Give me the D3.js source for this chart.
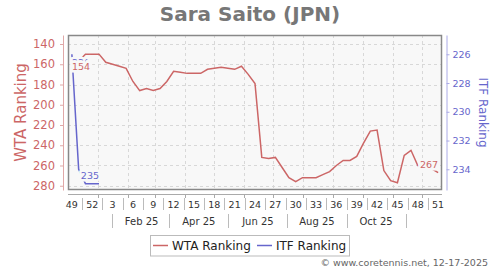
<!DOCTYPE html>
<html>
<head>
<meta charset="utf-8">
<script src="https://cdn.jsdelivr.net/npm/d3@7"></script>
<style>
  body { margin: 0; background: #fff; }
</style>
</head>
<body>
<div id="chart"></div>
<script>
// weekly ranking, ISO weeks 49/2024 .. 51/2025
var weekNums = [49,50,51,52,1,2,3,4,5,6,7,8,9,10,11,12,13,14,15,16,17,18,19,20,21,22,23,24,25,26,27,28,29,30,31,32,33,34,35,36,37,38,39,40,41,42,43,44,45,46,47,48,49,50,51];
var wtaRank = [154,157,150,150,150,158,160,162,164,177,186,184,186,184,177,167,168,169,169,169,165,164,163,164,165,162,170,179,252,253,252,262,272,276,272,272,272,269,266,260,255,255,251,238,226,225,265,275,277,250,245,260,261,263,267];
var itfRank = [226,234,235,235,235];
var wtaTicks = [140,160,180,200,220,240,260,280];
var itfTicks = [226,228,230,232,234];
var monthLabels = ["Feb 25","Apr 25","Jun 25","Aug 25","Oct 25"];

var W = 500, H = 270;
var plot = { left: 68, right: 442, top: 35, bottom: 190 };
var wtaColor = "#cc6666", itfColor = "#6666cc", plotBg = "#f8f8f8";

var svg = d3.select("#chart").append("svg")
    .attr("width", W)
    .attr("height", H)
    .style("font-family", "'DejaVu Sans', sans-serif");

// points sit on the thursday of each week
var firstDay = new Date(2024, 11, 5);
var dates = weekNums.map(function(w, i){ return d3.timeDay.offset(firstDay, 7 * i) });

var x = d3.scaleTime()
    .domain([new Date(2024, 11, 1), new Date(2025, 11, 22)])
    .range([plot.left, plot.right]);
var yWta = d3.scaleLinear().domain([131.1, 284.2]).range([plot.top, plot.bottom]);
var yItf = d3.scaleLinear().domain([224.66, 235.44]).range([plot.top, plot.bottom]);

// title
svg.append("text")
    .attr("x", 250).attr("y", 21)
    .attr("text-anchor", "middle")
    .attr("font-size", 20).attr("font-weight", "bold")
    .attr("fill", "#777")
    .text("Sara Saito (JPN)");

// plot area + grid
svg.append("rect")
    .attr("x", plot.left).attr("y", plot.top)
    .attr("width", plot.right - plot.left).attr("height", plot.bottom - plot.top)
    .attr("fill", plotBg);

var months = d3.timeMonth.range(new Date(2025, 0, 1), new Date(2025, 11, 2));
var grid = svg.append("g").attr("stroke", "#d8d8d8").attr("stroke-dasharray", "3,3");
grid.selectAll(".h").data(wtaTicks).enter().append("line")
    .attr("x1", plot.left).attr("x2", plot.right)
    .attr("y1", function(d){ return Math.round(yWta(d)) + 0.5 })
    .attr("y2", function(d){ return Math.round(yWta(d)) + 0.5 });
grid.selectAll(".v").data(months).enter().append("line")
    .attr("x1", function(d){ return Math.round(x(d)) + 0.5 })
    .attr("x2", function(d){ return Math.round(x(d)) + 0.5 })
    .attr("y1", plot.top).attr("y2", plot.bottom);

// lines
var itfLine = d3.line()
    .x(function(d, i){ return x(dates[i]) })
    .y(function(d){ return yItf(d) });
var wtaLine = d3.line()
    .x(function(d, i){ return x(dates[i]) })
    .y(function(d){ return yWta(d) });

svg.append("path").datum(itfRank)
    .attr("d", itfLine).attr("fill", "none")
    .attr("stroke", itfColor).attr("stroke-width", 1.5);
svg.append("path").datum(wtaRank)
    .attr("d", wtaLine).attr("fill", "none")
    .attr("stroke", wtaColor).attr("stroke-width", 1.5);

// first / last value labels with a halo
function endLabels(values, yScale, color){
    var last = values.length - 1;
    var lab = [
        { v: values[0], x: x(dates[0]), y: yScale(values[0]) + 12, anchor: "start" },
        { v: values[last], x: x(dates[last]), y: yScale(values[last]) - 4.5, anchor: "end" }
    ];
    svg.append("g").selectAll("text").data(lab).enter().append("text")
        .attr("x", function(d){ return d.x })
        .attr("y", function(d){ return d.y })
        .attr("text-anchor", function(d){ return d.anchor })
        .attr("font-size", 9.5)
        .attr("fill", color)
        .attr("stroke", plotBg).attr("stroke-width", 5)
        .attr("paint-order", "stroke")
        .text(function(d){ return d.v });
}
endLabels(itfRank, yItf, itfColor);
endLabels(wtaRank, yWta, wtaColor);

svg.append("rect")
    .attr("x", plot.left + 0.5).attr("y", plot.top + 0.5)
    .attr("width", plot.right - plot.left - 1).attr("height", plot.bottom - plot.top - 1)
    .attr("fill", "none").attr("stroke", "#888").attr("stroke-width", 1.5);

// left axis (WTA)
var leftAxis = svg.append("g")
    .attr("transform", "translate(63,0)")
    .call(d3.axisLeft(yWta).tickValues(wtaTicks).tickSize(3).tickSizeOuter(0).tickPadding(5));
leftAxis.select(".domain").attr("stroke", "#e0a8a8");
leftAxis.selectAll(".tick line").attr("stroke", "#e0a8a8");
leftAxis.selectAll(".tick text")
    .attr("font-size", 11.5).attr("font-family", "'DejaVu Sans', sans-serif")
    .attr("fill", wtaColor);

// right axis (ITF)
var rightAxis = svg.append("g")
    .attr("transform", "translate(446.5,0)")
    .call(d3.axisRight(yItf).tickValues(itfTicks).tickSize(3).tickSizeOuter(0).tickPadding(3));
rightAxis.select(".domain").attr("stroke", "#aaaae6");
rightAxis.selectAll(".tick line").attr("stroke", "#aaaae6");
rightAxis.selectAll(".tick text")
    .attr("font-size", 9.5).attr("font-family", "'DejaVu Sans', sans-serif")
    .attr("fill", itfColor);

svg.append("text")
    .attr("transform", "translate(26," + (plot.top + plot.bottom) / 2 + ") rotate(-90)")
    .attr("text-anchor", "middle")
    .attr("font-size", 15)
    .attr("fill", wtaColor)
    .text("WTA Ranking");
svg.append("text")
    .attr("transform", "translate(478.5," + (plot.top + plot.bottom) / 2 + ") rotate(90)")
    .attr("text-anchor", "middle")
    .attr("font-size", 12)
    .attr("fill", itfColor)
    .text("ITF Ranking");

// bottom axis: line, month ticks, week labels, month labels
var xAxis = svg.append("g");
xAxis.append("line")
    .attr("x1", plot.left).attr("x2", plot.right)
    .attr("y1", 194.5).attr("y2", 194.5)
    .attr("stroke", "#aaa");
xAxis.selectAll(".mt").data(months).enter().append("line")
    .attr("x1", function(d){ return Math.round(x(d)) + 0.5 })
    .attr("x2", function(d){ return Math.round(x(d)) + 0.5 })
    .attr("y1", 194.5).attr("y2", 198)
    .attr("stroke", "#aaa");

var labelIdx = d3.range(0, weekNums.length, 3);
xAxis.selectAll(".wl").data(labelIdx).enter().append("text")
    .attr("x", function(i){ return x(dates[i]) })
    .attr("y", 207.5)
    .attr("text-anchor", "middle")
    .attr("font-size", 9.5)
    .attr("fill", "#333")
    .text(function(i){ return weekNums[i] });
xAxis.selectAll(".ws").data(labelIdx.slice(0, -1)).enter().append("line")
    .attr("x1", function(i){ return Math.round((x(dates[i]) + x(dates[i + 3])) / 2) + 0.5 })
    .attr("x2", function(i){ return Math.round((x(dates[i]) + x(dates[i + 3])) / 2) + 0.5 })
    .attr("y1", 198).attr("y2", 210)
    .attr("stroke", "#bbb");

var monthMid = monthLabels.map(function(m, i){ return new Date(2025, 1 + 2 * i, 15) });
var monthSep = d3.range(0, 12, 2).map(function(m){ return new Date(2025, m, 15) });
xAxis.selectAll(".ml").data(monthLabels).enter().append("text")
    .attr("x", function(d, i){ return x(monthMid[i]) })
    .attr("y", 224.5)
    .attr("text-anchor", "middle")
    .attr("font-size", 10)
    .attr("fill", "#333")
    .text(function(d){ return d });
xAxis.selectAll(".ms").data(monthSep).enter().append("line")
    .attr("x1", function(d){ return Math.round(x(d)) + 0.5 })
    .attr("x2", function(d){ return Math.round(x(d)) + 0.5 })
    .attr("y1", 214).attr("y2", 228)
    .attr("stroke", "#bbb");

// legend
var legend = svg.append("g");
legend.append("rect")
    .attr("x", 150.5).attr("y", 235.5)
    .attr("width", 199).attr("height", 20.5)
    .attr("fill", "#fff").attr("stroke", "#bbb");
var items = [
    { name: "WTA Ranking", color: wtaColor, x: 153 },
    { name: "ITF Ranking", color: itfColor, x: 257 }
];
var li = legend.selectAll(".li").data(items).enter().append("g");
li.append("line")
    .attr("x1", function(d){ return d.x }).attr("x2", function(d){ return d.x + 15 })
    .attr("y1", 245.5).attr("y2", 245.5)
    .attr("stroke", function(d){ return d.color }).attr("stroke-width", 1.5);
li.append("text")
    .attr("x", function(d){ return d.x + 19 })
    .attr("y", 250)
    .attr("font-size", 12)
    .attr("fill", "#222")
    .text(function(d){ return d.name });

svg.append("text")
    .attr("x", 488).attr("y", 266)
    .attr("text-anchor", "end")
    .attr("font-size", 9.5)
    .attr("fill", "#666")
    .text("\u00a9 www.coretennis.net, 12-17-2025");
</script>
</body>
</html>
